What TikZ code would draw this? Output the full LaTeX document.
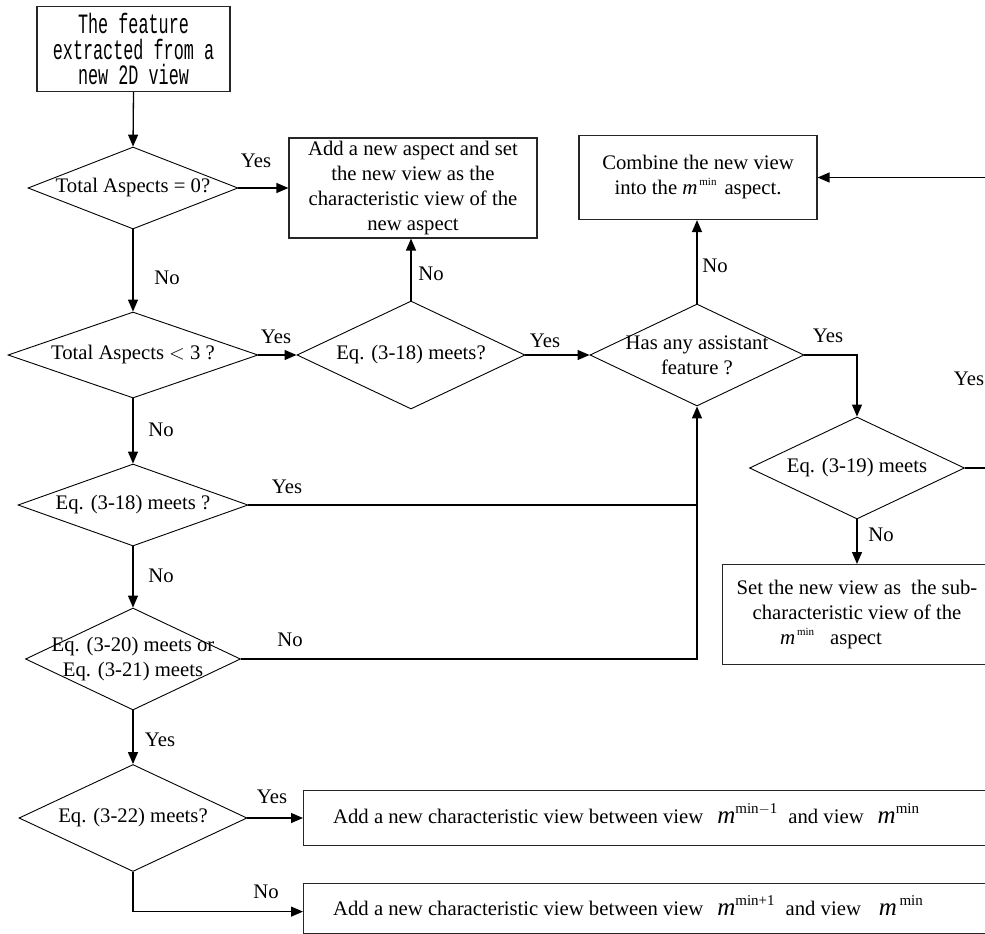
\documentclass[tikz,border=0pt]{standalone}
\usepackage{fontspec}
\setmainfont{Liberation Serif}
\newfontfamily\monofont[FakeStretch=0.6]{Liberation Mono}
\usetikzlibrary{shapes.geometric,arrows.meta}

% small "m^min" pieces used inside the boxes
\newcommand\msmall{{\fontsize{21}{25}\selectfont\itshape m}}
\newcommand\supsmall[1]{\raisebox{9pt}{\fontsize{11}{11}\selectfont #1}}
\newcommand\mbig{{\fontsize{25}{25}\selectfont\itshape m}}
\newcommand\supbig[1]{\raisebox{10pt}{\fontsize{15}{15}\selectfont #1}}

\tikzset{
  every node/.style={font=\fontsize{20.7}{25}\selectfont},
  dia/.style={draw, shape=diamond, inner sep=0pt, line width=0.9pt},
  boxnode/.style={draw=black!85, rectangle, inner sep=0pt, line width=1.2pt},
  txt/.style={align=center, inner sep=0pt},
  monotext/.style={align=center, inner sep=0pt, font=\monofont\fontsize{28}{25.5}\selectfont},
  lbl/.style={inner sep=0pt},
  flow/.style={line width=1.3pt, -{Triangle[length=12pt,width=10pt]}},
  plain/.style={line width=1.3pt}
}

\begin{document}
\begin{tikzpicture}[x=1pt,y=-1pt]
\useasboundingbox (0,0) rectangle (985,934);
\clip (0,0) rectangle (985,934);

% start
\node[boxnode, minimum width=193pt, minimum height=85pt] (start) at (133.5,49) {};
\node[monotext] (startt) at (start) {The feature\\extracted from a\\new 2D view};

% decisions on the left column
\node[dia, minimum width=210pt, minimum height=82pt] (d1) at (133,188) {};
\node[txt] (d1t) at (d1) {Total Aspects = 0?};
\node[dia, minimum width=250pt, minimum height=86pt] (d2) at (133,355) {};
\node[txt] (d2t) at (d2) {Total Aspects $<$ 3 ?};
\node[dia, minimum width=230pt, minimum height=82pt] (d6) at (133,505) {};
\node[txt] (d6t) at (d6) {Eq. (3-18) meets ?};
\node[dia, minimum width=215pt, minimum height=102pt] (d7) at (133,659) {};
\node[txt] (d7t) at (d7) {Eq. (3-20) meets or\\Eq. (3-21) meets};
\node[dia, minimum width=228pt, minimum height=107pt] (d8) at (133,818) {};
\node[txt] (d8t) at (d8) {Eq. (3-22) meets?};

% middle and right decisions
\node[dia, minimum width=228pt, minimum height=108pt] (d3) at (411,355) {};
\node[txt] (d3t) at (d3) {Eq. (3-18) meets?};
\node[dia, minimum width=214pt, minimum height=102pt] (d4) at (697,355) {};
\node[txt] (d4t) at (d4) {Has any assistant\\feature ?};
\node[dia, minimum width=215pt, minimum height=102pt] (d5) at (857,468) {};
\node[txt] (d5t) at (d5) {Eq. (3-19) meets};

% action boxes
\node[boxnode, minimum width=248pt, minimum height=100pt] (addasp) at (413,188) {};
\node[txt] (addaspt) at (addasp) {Add a new aspect and set\\the new view as the\\characteristic view of the\\new aspect};
\node[boxnode, minimum width=238pt, minimum height=84pt] (comb) at (698,177.5) {};
\node[txt] (combt) at (comb) {Combine the new view\\into the \msmall\supsmall{\,min}\hspace{8pt}aspect.};
\node[boxnode, anchor=north west, minimum width=300pt, minimum height=100pt] (setv) at (722,564) {};
\node[txt] (setvt) at (857,614.5) {Set the new view as\hspace{5pt} the sub-\\characteristic view of the\\\msmall\supsmall{\,min}\hspace{16pt}aspect\hspace*{52pt}};
\node[boxnode, anchor=north west, minimum width=720pt, minimum height=55pt] (nca) at (303,790) {};
\node[lbl, anchor=base west] (ncat) at (333,823)
  {Add a new characteristic view between view\hspace{14pt}\mbig\supbig{min$-$1}\hspace{11pt}and view\hspace{14pt}\mbig\supbig{min}};
\node[boxnode, anchor=north west, minimum width=720pt, minimum height=50pt] (ncb) at (303,883) {};
\node[lbl, anchor=base west] (ncbt) at (333,915)
  {Add a new characteristic view between view\hspace{14pt}\mbig\supbig{min+1}\hspace{11pt}and view\hspace{18pt}\mbig\supbig{\,min}};

% connectors
\coordinate (fb) at (1010,468);
\draw[flow] (start.south) -- (d1.north);
\draw[flow] (d1.east) -- (addasp.west);
\draw[flow] (d1.south) -- (d2.north);
\draw[flow] (d2.east) -- (d3.west);
\draw[flow] (d3.north) -- (d3.north |- addasp.south);
\draw[flow] (d3.east) -- (d4.west);
\draw[flow] (d4.north) -- (d4.north |- comb.south);
\draw[flow] (d4.east) -| (d5.north);
\draw[flow] (d5.south) -- (d5.south |- setv.north);
\draw[flow] (d5.east) -- (fb) |- (comb.east);
\draw[flow] (d2.south) -- (d6.north);
\draw[flow] (d6.east) -| (d4.south);
\draw[plain] (d7.east) -| (d4.south |- d6.east);
\draw[flow] (d6.south) -- (d7.north);
\draw[flow] (d7.south) -- (d8.north);
\draw[flow] (d8.east) -- (nca.west |- d8.east);
\draw[flow] (d8.south) |- ([yshift=-3pt]ncb.west);

% branch labels
\node[lbl] (l1) at (256,161) {Yes};
\node[lbl] (l2) at (167,278) {No};
\node[lbl] (l3) at (276,337) {Yes};
\node[lbl] (l4) at (431,274) {No};
\node[lbl] (l5) at (545,341) {Yes};
\node[lbl] (l6) at (715,266) {No};
\node[lbl] (l7) at (828,336) {Yes};
\node[lbl] (l8) at (969,379) {Yes};
\node[lbl] (l9) at (161,430) {No};
\node[lbl] (l10) at (287,487) {Yes};
\node[lbl] (l11) at (161,576) {No};
\node[lbl] (l12) at (290,640) {No};
\node[lbl] (l13) at (160,740) {Yes};
\node[lbl] (l14) at (881,535) {No};
\node[lbl] (l15) at (272,797) {Yes};
\node[lbl] (l16) at (266,892) {No};
\end{tikzpicture}
\end{document}
